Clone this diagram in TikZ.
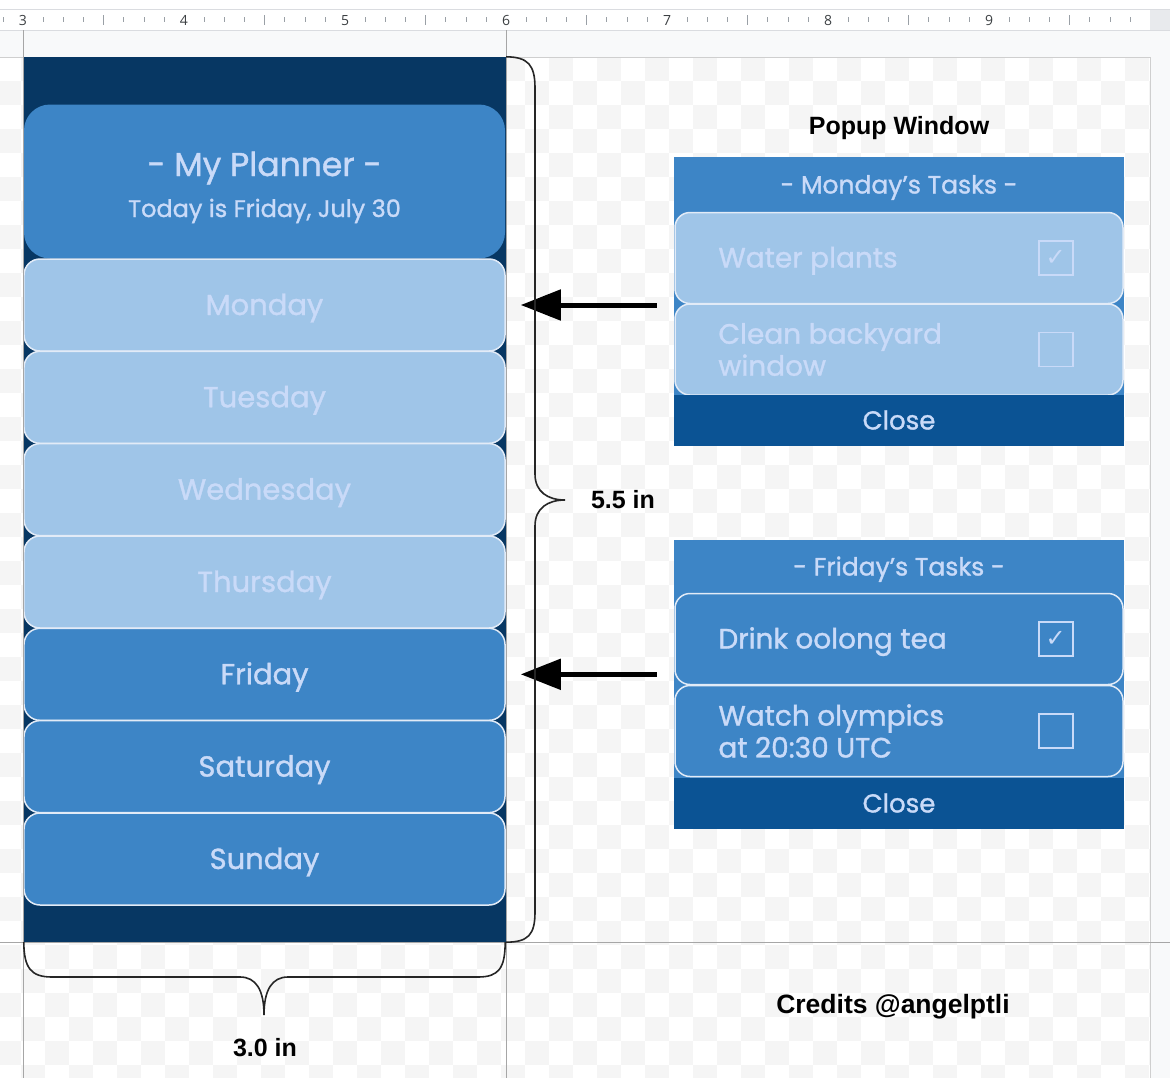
\documentclass[tikz,border=0pt]{standalone}
\usepackage{fontspec}
\setmainfont{Poppins}[BoldFont=Poppins, BoldFeatures={FakeBold=1.2}]
\newfontfamily\labelfont{Liberation Sans}
\newfontfamily\rulerfont{Open Sans}
\newfontfamily\symfont{DejaVu Sans}
\usetikzlibrary{arrows.meta}
\usetikzlibrary{calc}

\definecolor{navy}{HTML}{073763}
\definecolor{darkone}{HTML}{3D85C6}
\definecolor{darktwo}{HTML}{0B5394}
\definecolor{lighttwo}{HTML}{9FC5E8}
\definecolor{softtext}{HTML}{C9DAF8}
\definecolor{boxline}{HTML}{E2EBF7}
\definecolor{checker}{HTML}{F5F5F5}
\definecolor{gutter}{HTML}{F8F9FA}
\definecolor{rulerline}{HTML}{DADCE0}
\definecolor{rulergrey}{HTML}{E8EAED}
\definecolor{tickgrey}{HTML}{9AA0A6}
\definecolor{rulertext}{HTML}{3C4043}
\definecolor{guidegrey}{HTML}{A6A6A6}
\definecolor{pagegrey}{HTML}{CFCFCF}

\tikzset{
  daybox/.style={draw=boxline, line width=1.5bp, rounded corners=16bp,
    minimum width=481bp, minimum height=92bp, inner sep=0pt,
    text height=27bp, text depth=7bp,
    text=softtext, font=\bfseries\fontsize{29bp}{34bp}\selectfont},
  taskbox/.style={draw=boxline, line width=1.5bp, rounded corners=15bp,
    minimum width=448bp, minimum height=91bp, inner sep=0pt},
  tasktext/.style={anchor=west, align=left, inner sep=0pt, text=softtext,
    font=\bfseries\fontsize{28bp}{32bp}\selectfont},
  oneline/.style={text height=26bp, text depth=7bp},
  chkbox/.style={draw=softtext, line width=1.5bp, minimum size=34bp,
    inner sep=0pt, text=softtext, font=\symfont\fontsize{24bp}{24bp}\selectfont},
  poptitle/.style={inner sep=0pt, text=softtext, text height=24bp, text depth=6bp,
    font=\bfseries\fontsize{25bp}{30bp}\selectfont},
  closebar/.style={fill=darktwo, minimum width=450bp, minimum height=51bp,
    inner sep=0pt, text=softtext, font=\bfseries\fontsize{26bp}{30bp}\selectfont},
  lbl/.style={anchor=base, inner sep=0pt, font=\labelfont\bfseries\fontsize{25bp}{30bp}\selectfont},
  rulernum/.style={anchor=base, inner sep=0pt, text=rulertext, font=\rulerfont\fontsize{14bp}{16bp}\selectfont},
  brace/.style={draw=black!85, line width=1.6bp},
  bigarrow/.style={line width=5bp, -{Triangle[length=40bp,width=30bp]}},
  guide/.style={draw=guidegrey, line width=1bp}
}

\begin{document}
\begin{tikzpicture}[x=1bp,y=-1bp]
  \useasboundingbox (0,0) rectangle (1170,1078);

  % 背景
  \fill[white] (0,0) rectangle (1170,1078);
  \fill[gutter] (0,30) rectangle (1170,57);
  \fill[gutter] (1150,30) rectangle (1170,1078);
  \fill[rulergrey] (1150,10) rectangle (1170,30);
  \draw[rulerline] (0,9.5) -- (1170,9.5);
  \draw[rulerline] (0,30) -- (1170,30);
  \begin{scope}
    \clip (0,57) rectangle (1150,1078);
    \foreach \j in {0,...,42} {
      \pgfmathtruncatemacro\off{mod(\j,2)}
      \foreach \k in {-1,...,23}
        \fill[checker] ({21+24*(2*\k+\off)},{57+24*\j}) rectangle +(24,24);
    }
  \end{scope}
  \draw[pagegrey] (0,57) -- (1150,57) -- (1150,1078);

  % 目盛り
  \foreach \n [count=\k from 0] in {3,...,9}
    \node[rulernum] (r\n) at ({23+161*\k},25) {\n};
  \foreach \t in {-1,1,2,...,55} {
    \pgfmathtruncatemacro\r{mod(\t,8)}
    \ifnum\r=4
      \draw[tickgrey] ({23+20.125*\t},15) -- ({23+20.125*\t},25);
    \else\ifnum\r=0\else
      \draw[tickgrey] ({23+20.125*\t},17) -- ({23+20.125*\t},22);
    \fi\fi
  }

  % プランナー
  \node[fill=navy, minimum width=483bp, minimum height=885bp, inner sep=0pt] (board) at (264.5,499.5) {};
  \node[fill=darkone, rounded corners=26bp, minimum width=481bp, minimum height=154bp, inner sep=0pt] (head) at (264.5,181.5) {};
  \node[anchor=base, inner sep=0pt, text=softtext, font=\bfseries\fontsize{33bp}{40bp}\selectfont] (ttl) at (264.5,176) {- My Planner -};
  \node[anchor=base, inner sep=0pt, text=softtext, font=\bfseries\fontsize{24bp}{28bp}\selectfont] (sub) at (264.5,217) {Today is Friday, July 30};

  \node[daybox, fill=lighttwo] (mon) at (264.5,305) {Monday};
  \node[daybox, fill=lighttwo] (tue) at (264.5,397.3) {Tuesday};
  \node[daybox, fill=lighttwo] (wed) at (264.5,489.6) {Wednesday};
  \node[daybox, fill=lighttwo] (thu) at (264.5,582) {Thursday};
  \node[daybox, fill=darkone] (fri) at (264.5,674.3) {Friday};
  \node[daybox, fill=darkone] (sat) at (264.5,766.6) {Saturday};
  \node[daybox, fill=darkone] (sun) at (264.5,859) {Sunday};

  % ポップアップ（月）
  \node[lbl] (poplbl) at (899,134) {Popup Window};
  \fill[darkone] (674,157) rectangle (1124,400);
  \node[poptitle] (montitle) at (899,184.5) {- Monday's Tasks -};
  \node[taskbox, fill=lighttwo] (mona) at (899,258) {};
  \node[taskbox, fill=lighttwo] (monb) at (899,349.5) {};
  \node[tasktext, oneline] (monat) at ([xshift=44bp]mona.west) {Water plants};
  \node[tasktext] (monbt) at ([xshift=44bp]monb.west) {Clean backyard\\window};
  \node[chkbox] (monac) at ([xshift=-68bp]mona.east) {✓};
  \node[chkbox] (monbc) at ([xshift=-68bp]monb.east) {};
  \node[closebar] (monclose) at (899,420) {Close};

  % ポップアップ（金）
  \fill[darkone] (674,540) rectangle (1124,785);
  \node[poptitle] (frititle) at (899,566.5) {- Friday's Tasks -};
  \node[taskbox, fill=darkone] (fria) at (899,639) {};
  \node[taskbox, fill=darkone] (frib) at (899,731) {};
  \node[tasktext, oneline] (friat) at ([xshift=44bp]fria.west) {Drink oolong tea};
  \node[tasktext] (fribt) at ([xshift=44bp]frib.west) {Watch olympics\\at 20:30 UTC};
  \node[chkbox] (friac) at ([xshift=-68bp]fria.east) {✓};
  \node[chkbox] (fribc) at ([xshift=-68bp]frib.east) {};
  \node[closebar] (friclose) at (899,803) {Close};

  % ガイド
  \draw[guide] (23,30) -- (23,1078);
  \draw[guide] (506,30) -- (506,1078);
  \draw[guide] (0,942) -- (1170,942);

  % 矢印
  \draw[bigarrow, shorten <=17bp, shorten >=15bp] (monclose.west |- mon.east) -- (mon.east);
  \draw[bigarrow, shorten <=17bp, shorten >=15bp] (friclose.west |- fri.east) -- (fri.east);

  % 括弧
  \draw[brace] (board.north east) .. controls (528,57) and (535,65) .. (535,88)
    -- (535,474) .. controls (535,492) and (548,500) .. (565,500)
    .. controls (548,500) and (535,508) .. (535,526)
    -- (535,912) .. controls (535,935) and (528,942) .. (board.south east); %高さ
  \draw[brace] ($(board.south west)+(1,0)$) .. controls (24,968) and (31,977) .. (52,977)
    -- (240,977) .. controls (256,977) and (264,990) .. (264,1015)
    .. controls (264,990) and (272,977) .. (288,977)
    -- (478,977) .. controls (499,977) and (505,968) .. ($(board.south east)+(-1,0)$); %幅
  \node[lbl] (hlbl) at (623,508) {5.5 in};
  \node[lbl] (wlbl) at (265,1056) {3.0 in};
  \node[lbl, font=\labelfont\bfseries\fontsize{26.5bp}{30bp}\selectfont] (credit) at (893,1013) {Credits @angelptli};
\end{tikzpicture}
\end{document}
